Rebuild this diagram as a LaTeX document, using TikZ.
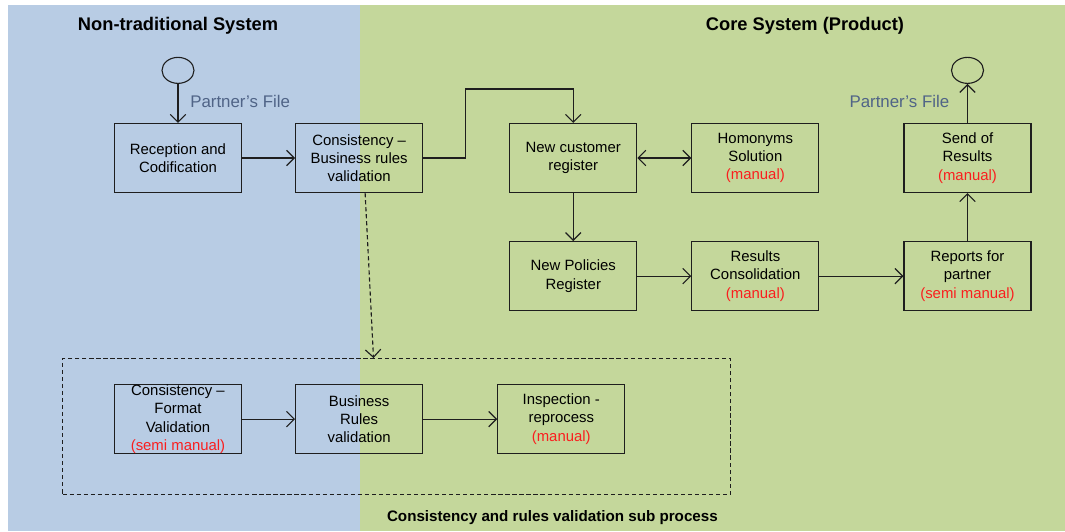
\documentclass[tikz,border=0pt]{standalone}
\usepackage{fontspec}
\setmainfont{Liberation Sans}
\usepackage{xcolor}
\usetikzlibrary{positioning, arrows.meta, shapes.geometric}
\definecolor{nontrad}{RGB}{184, 204, 228}
\definecolor{core}{RGB}{196, 215, 155}
\definecolor{manual}{RGB}{250, 30, 30}
\definecolor{file}{RGB}{80, 100, 135}
\definecolor{ink}{RGB}{30, 30, 30}

\begin{document}
\begin{tikzpicture}[
    procbox/.style={
        draw=ink,
        line width=0.8pt,
        minimum width=3.175cm,
        minimum height=1.725cm,
        inner xsep=2pt,
        inner ysep=0pt,
        align=center,
        font=\fontsize{10.6}{13}\selectfont
    },
    endpoint/.style={draw=ink, ellipse, line width=0.8pt, minimum width=0.8cm, minimum height=0.65cm, inner sep=0pt},
    lanetitle/.style={font=\fontsize{13}{15}\selectfont\bfseries},
    filelbl/.style={font=\fontsize{12}{14}\selectfont, text=file, inner sep=0pt},
    subbox/.style={draw=ink, line width=0.8pt, dash pattern=on 3pt off 2pt, minimum width=16.7cm, minimum height=3.4cm},
    sublbl/.style={font=\fontsize{10.8}{13}\selectfont\bfseries, inner sep=0pt},
    >={Straight Barb[length=5.5pt, width=11pt]}
]
\useasboundingbox (0,0) rectangle (26.625,-13.275);

% === Lanes ===
\fill[nontrad] (0.2,-0.125) rectangle (9,-13.275);
\fill[core] (9,-0.125) rectangle (26.625,-13.275);
\node[lanetitle] (nontit) at (4.45,-0.65) {Non-traditional System};
\node[lanetitle] (coretit) at (20.125,-0.65) {Core System (Product)};

% === Main flow ===
\node[procbox] (recep) at (4.45,-3.95) {Reception and\\Codification};
\node[procbox, right=1.325cm of recep] (bizval) {Consistency --\\Business rules\\validation};
\node[procbox, right=2.15cm of bizval] (newcust) {New customer\\register};
\node[procbox, right=1.35cm of newcust] (homon) {Homonyms\\Solution\\\textcolor{manual}{(manual)}};
\node[procbox, right=2.1cm of homon] (send) {Send of\\Results\\\textcolor{manual}{(manual)}};
\node[procbox, below=1.2cm of newcust] (policies) {New Policies\\Register};
\node[procbox, below=1.2cm of homon] (consol) {Results\\Consolidation\\\textcolor{manual}{(manual)}};
\node[procbox, below=1.2cm of send] (reports) {Reports for\\partner\\\textcolor{manual}{(semi manual)}};

% === Start / end ===
\node[endpoint, above=0.975cm of recep] (start) {};
\node[endpoint, above=0.975cm of send] (finish) {};
\node[filelbl, anchor=west] (infile) at ([xshift=0.3cm, yshift=0.525cm]recep.north) {Partner's File};
\node[filelbl, anchor=east] (outfile) at ([xshift=-0.45cm, yshift=0.525cm]send.north) {Partner's File};

% === Sub process ===
\node[procbox, below=4.775cm of recep] (format) {Consistency --\\Format\\Validation\\\textcolor{manual}{(semi manual)}};
\node[procbox, below=4.775cm of bizval] (rules) {Business\\Rules\\validation};
\node[procbox, right=1.85cm of rules] (inspect) {Inspection -\\reprocess\\\textcolor{manual}{(manual)}};
\node[subbox, anchor=north west] (subproc) at ([xshift=-1.3cm, yshift=0.65cm]format.north west) {};
\node[sublbl, anchor=north east] (subtit) at ([xshift=-0.325cm, yshift=-0.375cm]subproc.south east) {Consistency and rules validation sub process};

% === Arrows ===
\coordinate[above=0.85cm of newcust.north] (jog);
\draw[->, line width=0.8pt, ink] (start.south) -- (recep.north);
\draw[->, line width=0.8pt, ink] (recep.east) -- (bizval.west);
\draw[->, line width=0.8pt, ink] (bizval.east) -- ++(1.05,0) |- (jog) -- (newcust.north);
\draw[<->, line width=0.8pt, ink] (newcust.east) -- (homon.west);
\draw[->, line width=0.8pt, ink] (newcust.south) -- (policies.north);
\draw[->, line width=0.8pt, ink] (policies.east) -- (consol.west);
\draw[->, line width=0.8pt, ink] (consol.east) -- (reports.west);
\draw[->, line width=0.8pt, ink] (reports.north) -- (send.south);
\draw[->, line width=0.8pt, ink] (send.north) -- (finish.south);
\draw[->, line width=0.8pt, ink, dash pattern=on 3pt off 2pt] ([xshift=0.15cm]bizval.south) -- ([xshift=-0.575cm]subproc.north);
\draw[->, line width=0.8pt, ink] (format.east) -- (rules.west);
\draw[->, line width=0.8pt, ink] (rules.east) -- (inspect.west);

\end{tikzpicture}
\end{document}
